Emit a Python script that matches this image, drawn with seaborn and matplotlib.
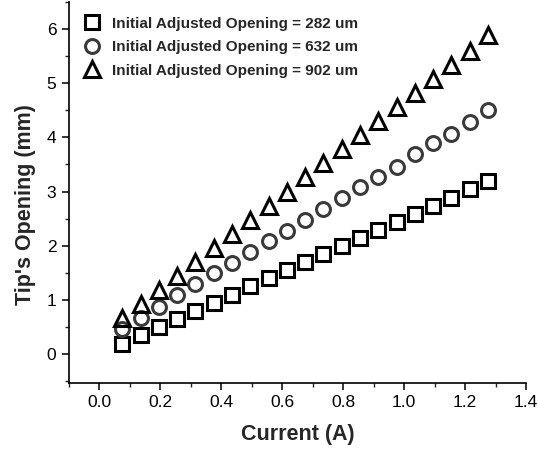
import numpy as np
import pandas as pd
import matplotlib.pyplot as plt
import seaborn as sns
from matplotlib.ticker import MultipleLocator

plt.switch_backend('Agg')

# Values
current = [0.075, 0.135, 0.195, 0.255, 0.315, 0.375, 0.435, 0.495, 0.555, 0.615, 0.675,
           0.735, 0.795, 0.855, 0.915, 0.975, 1.035, 1.095, 1.155, 1.215, 1.275]
opening_282 = [0.19, 0.35, 0.50, 0.65, 0.80, 0.95, 1.10, 1.25, 1.40, 1.55, 1.70,
               1.84, 2.00, 2.14, 2.29, 2.44, 2.59, 2.74, 2.89, 3.04, 3.19]
opening_632 = [0.46, 0.67, 0.87, 1.09, 1.29, 1.49, 1.69, 1.88, 2.08, 2.28, 2.48,
               2.68, 2.88, 3.08, 3.27, 3.45, 3.69, 3.89, 4.07, 4.28, 4.50]
opening_902 = [0.66, 0.93, 1.18, 1.44, 1.70, 1.96, 2.22, 2.48, 2.74, 3.00, 3.26,
               3.52, 3.78, 4.04, 4.30, 4.56, 4.82, 5.08, 5.34, 5.60, 5.88]
labels = ["Initial Adjusted Opening = 282 um",
          "Initial Adjusted Opening = 632 um",
          "Initial Adjusted Opening = 902 um"]
xticks = [0.0, 0.2, 0.4, 0.6, 0.8, 1.0, 1.2, 1.4]

sns.set_style("ticks")
plt.rcParams['font.family'] = ['Liberation Sans', 'DejaVu Sans']

fig = plt.figure(figsize=(5.38, 4.5), dpi=100)
ax = fig.add_axes([0.128, 0.149, 0.85, 0.847])

styles = [("s", "black", 10.5), ("o", "#3a3a3a", 10), ("^", "black", 11.5)]
for vals, label, (mk, col, ms) in zip([opening_282, opening_632, opening_902], labels, styles):
    df = pd.DataFrame({"Current": current, "Opening": vals})
    sns.lineplot(data=df, x="Current", y="Opening", ax=ax, label=label,
                 marker=mk, linestyle="", color=col, mfc="none", mec=col,
                 mew=2.2, ms=ms)

ax.set_xlim(-0.1, 1.4)
ax.set_ylim(-0.53, 6.5)
ax.xaxis.set_minor_locator(MultipleLocator(0.1))
ax.yaxis.set_major_locator(MultipleLocator(1))
ax.yaxis.set_minor_locator(MultipleLocator(0.5))
ax.set_xticks(xticks)
ax.set_xticklabels([f"{v:.1f}" for v in xticks])

for side in ["top", "right"]:
    ax.spines[side].set_visible(False)
for side in ["left", "bottom"]:
    ax.spines[side].set_linewidth(1.2)
    ax.spines[side].set_color("black")

ax.tick_params(which="major", direction="out", length=5, width=1.1, labelsize=12.5,
               colors="black", pad=4)
ax.tick_params(which="minor", direction="out", length=3, width=1.0)

ax.set_xlabel("Current (A)", fontsize=15.5, fontweight="bold", labelpad=10)
ax.set_ylabel("Tip's Opening (mm)", fontsize=15.5, fontweight="bold")
ax.yaxis.set_label_coords(-0.072, 0.468)

ax.legend(loc="upper left", frameon=False, prop={"weight": "bold", "size": 11},
          handletextpad=0.85, borderaxespad=0, borderpad=0.4, labelspacing=0.62,
          handlelength=1.0, bbox_to_anchor=(0.02, 0.977))

plt.savefig("out.png", dpi=100)
plt.close()
